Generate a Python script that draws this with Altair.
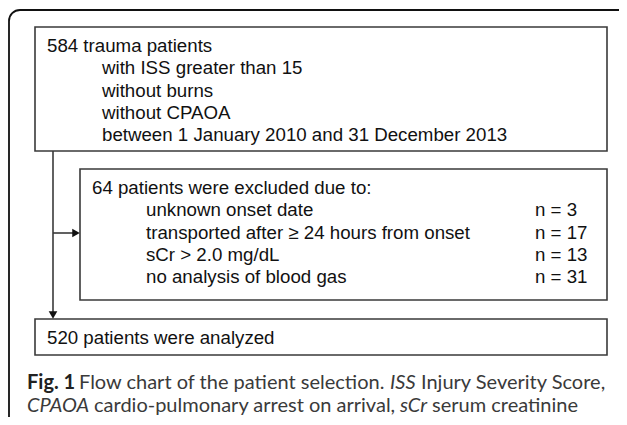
import altair as alt
import pandas as pd

# ---- content ----
box1_lines = [
    "584 trauma patients",
    "with ISS greater than 15",
    "without burns",
    "without CPAOA",
    "between 1 January 2010 and 31 December 2013",
]
box2_lines = [
    "64 patients were excluded due to:",
    "unknown onset date",
    "transported after \u2265 24 hours from onset",
    "sCr > 2.0 mg/dL",
    "no analysis of blood gas",
]
box2_counts = ["", "n = 3", "n = 17", "n = 13", "n = 31"]
box3_lines = ["520 patients were analyzed"]
caption_line1 = [("Fig. 1", "bold", "normal"), ("Flow chart of the patient selection.", "normal", "normal"),
                 ("ISS", "normal", "italic"), ("Injury Severity Score,", "normal", "normal")]
caption_line2 = [("CPAOA", "normal", "italic"), ("cardio-pulmonary arrest on arrival,", "normal", "normal"),
                 ("sCr", "normal", "italic"), ("serum creatinine", "normal", "normal")]

# ---- layout (page pixel coordinates) ----
X = alt.X("x:Q", scale=alt.Scale(domain=[8, 619], nice=False, zero=False), axis=None)
Y = alt.Y("y:Q", scale=alt.Scale(domain=[8, 417], nice=False, zero=False, reverse=True), axis=None)

boxes = pd.DataFrame({
    "x": [35, 80, 35], "x2": [607, 607, 607],
    "y": [27, 169, 319], "y2": [151, 300, 355],
})
frame = pd.DataFrame({"x": [9], "x2": [640], "y": [10], "y2": [460]})

frame_layer = alt.Chart(frame).mark_rect(
    fill="white", stroke="#111111", strokeWidth=1.8, cornerRadius=11, clip=True
).encode(x=X, x2="x2:Q", y=Y, y2="y2:Q")

box_layer = alt.Chart(boxes).mark_rect(
    fill="white", stroke="#3a3a3a", strokeWidth=1.6
).encode(x=X, x2="x2:Q", y=Y, y2="y2:Q")

lines = pd.DataFrame({
    "x": [53, 53], "x2": [53, 74], "y": [151, 233], "y2": [312, 233],
})
line_layer = alt.Chart(lines).mark_rule(color="#3a3a3a", strokeWidth=1.6).encode(
    x=X, x2="x2:Q", y=Y, y2="y2:Q")

heads = pd.DataFrame({"x": [53, 76], "y": [315, 233], "shape": ["triangle-down", "triangle-right"]})
head_layer = alt.Chart(heads).mark_point(filled=True, color="#111111", size=75, opacity=1).encode(
    x=X, y=Y, shape=alt.Shape("shape:N", scale=None))

def text_df(items, xs, ys):
    return pd.DataFrame({"t": items, "x": xs, "y": ys})

step = 22.3
b1 = text_df(box1_lines, [47] + [102] * 4, [52 + i * step for i in range(5)])
b2 = text_df(box2_lines, [92] + [146] * 4, [194 + i * step for i in range(5)])
b2n = text_df(box2_counts, [535] * 5, [194 + i * step for i in range(5)])
b3 = text_df(box3_lines, [47], [344])
main_text = pd.concat([b1, b2, b2n[b2n.t != ""], b3], ignore_index=True)

text_layer = alt.Chart(main_text).mark_text(
    align="left", baseline="alphabetic", font="Liberation Sans", fontSize=18.7, color="#111111"
).encode(x=X, y=Y, text="t:N")

cap_x1 = [27, 79, 390, 421]
cap_x2 = [27, 94, 400, 432]
cap = pd.DataFrame({
    "t": [s[0] for s in caption_line1] + [s[0] for s in caption_line2],
    "w": [s[1] for s in caption_line1] + [s[1] for s in caption_line2],
    "st": [s[2] for s in caption_line1] + [s[2] for s in caption_line2],
    "x": cap_x1 + cap_x2,
    "y": [389] * 4 + [412] * 4,
})

def cap_layer(df, weight, style, color):
    return alt.Chart(df).mark_text(
        align="left", baseline="alphabetic", font="Lato", fontSize=20,
        fontWeight=weight, fontStyle=style, color=color
    ).encode(x=X, y=Y, text="t:N")

cap_bold = cap_layer(cap[cap.w == "bold"], "bold", "normal", "#222222")
cap_reg = cap_layer(cap[(cap.w == "normal") & (cap.st == "normal")], "normal", "normal", "#3a3a3a")
cap_it = cap_layer(cap[cap.st == "italic"], "normal", "italic", "#3a3a3a")

chart = alt.layer(
    frame_layer, box_layer, line_layer, head_layer, text_layer, cap_bold, cap_reg, cap_it
).properties(
    width=611, height=409, padding=0, autosize=alt.AutoSizeParams(type="none")
).configure_view(stroke=None)

chart.save("out.html", embed_options={"renderer": "svg", "actions": False})
